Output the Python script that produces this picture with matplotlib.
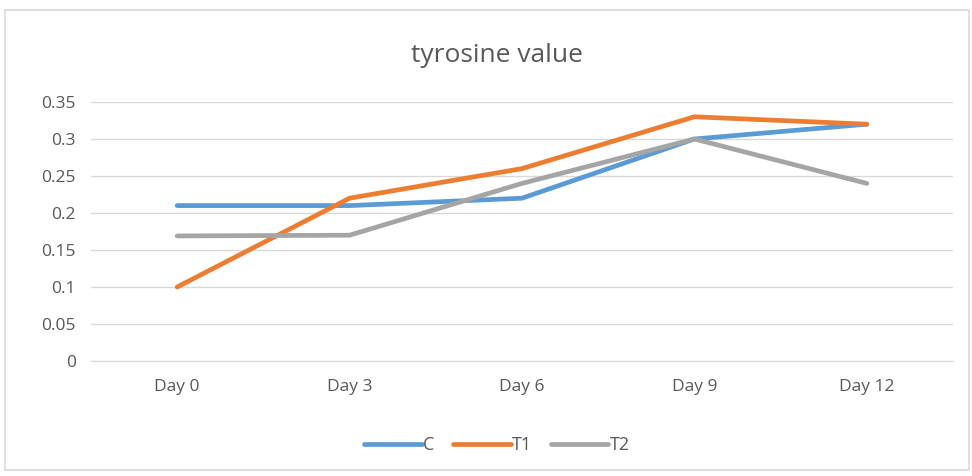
import matplotlib
matplotlib.use("Agg")
import matplotlib.pyplot as plt
from matplotlib.patches import Rectangle

days = ["Day 0", "Day 3", "Day 6", "Day 9", "Day 12"]
c_vals = [0.21, 0.21, 0.22, 0.30, 0.32]
t1_vals = [0.10, 0.22, 0.26, 0.33, 0.32]
t2_vals = [0.169, 0.17, 0.24, 0.30, 0.24]
yticks = [0, 0.05, 0.1, 0.15, 0.2, 0.25, 0.3, 0.35]
ytick_labels = ["0", "0.05", "0.1", "0.15", "0.2", "0.25", "0.3", "0.35"]

plt.rcParams['font.family'] = ['Open Sans', 'DejaVu Sans']

fig = plt.figure(figsize=(9.72, 4.76), dpi=100)
fig.patches.append(Rectangle((5 / 972, 1 - 470 / 476), 964 / 972, 460 / 476,
                             transform=fig.transFigure, fill=False,
                             edgecolor="#d9d9d9", linewidth=1.2))

ax = fig.add_axes([91 / 972, 1 - 361 / 476, 862 / 972, 259 / 476])
x = range(len(days))
ax.plot(x, c_vals, color="#5b9bd5", lw=3.4, label="C", solid_capstyle="round")
ax.plot(x, t1_vals, color="#ed7d31", lw=3.4, label="T1", solid_capstyle="round")
ax.plot(x, t2_vals, color="#a5a5a5", lw=3.4, label="T2", solid_capstyle="round")

ax.set_xlim(-0.5, len(days) - 0.5)
ax.set_ylim(0, 0.35)
ax.set_yticks(yticks)
ax.set_yticklabels(ytick_labels)
ax.set_xticks(list(x))
ax.set_xticklabels(days)
ax.grid(axis="y", color="#d9d9d9", lw=1)
ax.set_axisbelow(True)
for s in ["top", "right", "left"]:
    ax.spines[s].set_visible(False)
ax.spines["bottom"].set_color("#d9d9d9")
ax.tick_params(axis="both", length=0, labelsize=12.5, labelcolor="#595959")
ax.tick_params(axis="x", pad=13)
ax.tick_params(axis="y", pad=11)

fig.text(497 / 972, 1 - 55 / 476, "tyrosine value", ha="center", va="center",
         fontsize=19, color="#595959")
fig.legend(loc="center", bbox_to_anchor=(497 / 972, 1 - 445 / 476), ncol=3,
           frameon=False, fontsize=13, handlelength=3.2, handletextpad=0.1,
           columnspacing=1.0, labelcolor="#595959")

fig.savefig("out.png", dpi=100)
